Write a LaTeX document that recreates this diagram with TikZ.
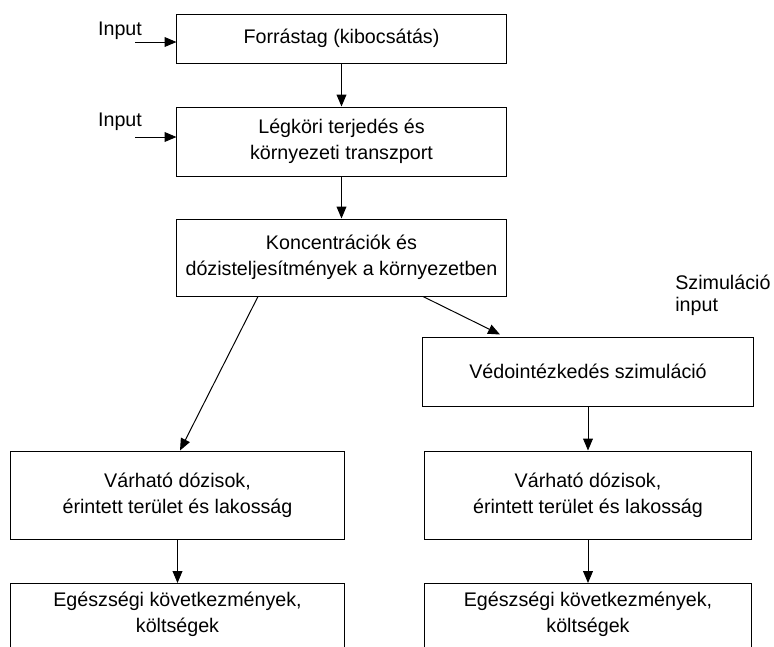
\documentclass[tikz,border=0pt]{standalone}
\usepackage{fontspec}
\setmainfont{Liberation Sans}
\usetikzlibrary{arrows.meta,calc}
\tikzset{
  box/.style={draw, line width=0.7pt, align=center, inner sep=0pt,
    font=\fontsize{14}{18.5}\selectfont},
  arr/.style={-{Triangle[length=8.5pt,width=7pt]}, line width=0.7pt},
  lbl/.style={inner sep=0pt, font=\fontsize{14}{15.6}\selectfont}
}

\begin{document}
\begin{tikzpicture}[x=0.025cm,y=-0.025cm]
				\useasboundingbox (0,0) rectangle (774,646);
				\clip (0,0) rectangle (774,646);
				
				% upper column
				\node[box, minimum width=8.225cm, minimum height=1.225cm] (src) at (341.5,38.5) {Forrástag (kibocsátás)};
				\node[box, minimum width=8.225cm, minimum height=1.725cm] (disp) at (341.5,141.5) {Légköri terjedés és\\környezeti transzport};
				\node[box, minimum width=8.225cm, minimum height=1.925cm] (conc) at (341.5,257.5) {Koncentrációk és\\dózisteljesítmények a környezetben};
				
				\node[lbl] (inp1) at (120,31) {Input};
				\node[lbl] (inp2) at (120,122) {Input};
				\coordinate (in1) at (135,42);
				\coordinate (in2) at (135,137);
				
				\node[lbl, align=left, anchor=west] (siminp) at (675,295) {Szimuláció\\input};
				
				% two branches
				\node[box, minimum width=8.25cm, minimum height=1.725cm] (prot) at (588,371.5) {Védointézkedés szimuláció};
				\node[box, minimum width=8.325cm, minimum height=2.2cm] (dosL) at (177.5,495) {Várható dózisok,\\érintett terület és lakosság};
				\node[box, minimum width=8.15cm, minimum height=2.2cm] (dosR) at (588,495) {Várható dózisok,\\érintett terület és lakosság};
				\node[box, minimum width=8.325cm, anchor=north, inner ysep=6pt, text depth=60pt] (healthL) at (177.5,583) {Egészségi következmények,\\költségek};
				\node[box, minimum width=8.15cm, anchor=north, inner ysep=6pt, text depth=60pt] (healthR) at (588,583) {Egészségi következmények,\\költségek};
				
				\draw[arr] (in1) -- (src.west |- in1);
				\draw[arr] (in2) -- (disp.west |- in2);
				\draw[arr] (src) -- (disp);
				\draw[arr] (disp) -- (conc);
				\draw[arr] ($(conc.south)+(-83.5,0)$) -- ($(dosL.north)+(2.5,0)$);
				\draw[arr] ($(conc.south)+(81.5,0)$) -- ($(prot.north)+(-88,-2)$);
				\draw[arr] (prot) -- (dosR);
				\draw[arr] (dosL) -- (healthL);
				\draw[arr] (dosR) -- (healthR);
			\end{tikzpicture}
\end{document}
